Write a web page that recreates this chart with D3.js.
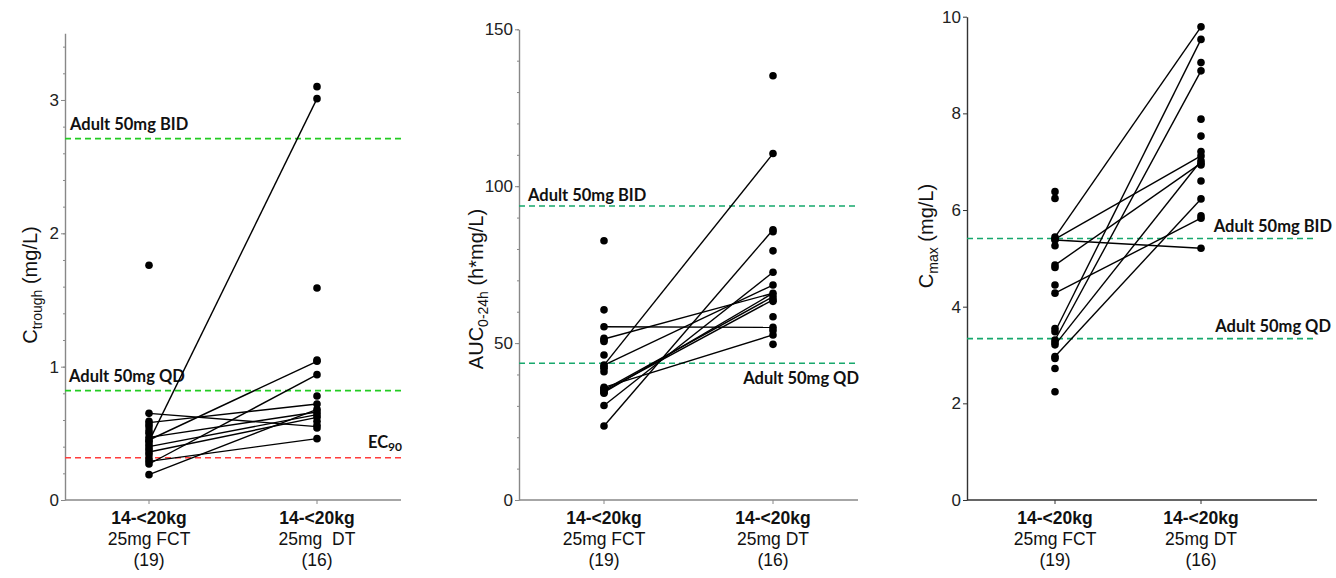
<!DOCTYPE html>
<html><head><meta charset="utf-8">
<script src="https://cdn.jsdelivr.net/npm/d3@7"></script>
<style>body{margin:0;background:#fff}svg{display:block}</style>
</head><body>
<svg id="c" width="1336" height="578"></svg>
<script>
// ---------- data ----------
const categories = ["FCT", "DT"];
const catLine1 = ["14-<20kg", "14-<20kg"];
const catLine2P1 = ["25mg FCT", "25mg\u00a0 DT"];
const catLine2 = ["25mg FCT", "25mg DT"];
const catLine3 = ["(19)", "(16)"];

// Panel 1: Ctrough (mg/L)
const ctroughFCT = [1.76, 0.65, 0.59, 0.57, 0.55, 0.52, 0.50, 0.47, 0.45, 0.44, 0.42, 0.40, 0.38, 0.36, 0.34, 0.31, 0.29, 0.27, 0.19];
const ctroughDT = [3.10, 3.01, 1.59, 1.05, 1.04, 0.94, 0.78, 0.72, 0.68, 0.66, 0.64, 0.62, 0.59, 0.56, 0.54, 0.46];
const ctroughPairs = [[0.65, 0.55], [0.58, 0.72], [0.44, 3.01], [0.45, 1.04], [0.27, 0.94], [0.47, 0.66], [0.40, 0.64], [0.36, 0.62], [0.29, 0.46], [0.19, 0.68]];
const ctroughTicks = [0, 1, 2, 3];
const ctroughRefs = [2.71, 0.82, 0.317];
const ctroughRefLabels = ["Adult 50mg BID", "Adult 50mg QD", "EC90"];

// Panel 2: AUC0-24h (h*mg/L)
const aucFCT = [82.6, 60.6, 55.2, 51.5, 51.0, 50.5, 46.2, 43.0, 42.5, 42.0, 40.9, 35.9, 35.4, 35.1, 34.7, 34.3, 34.0, 30.1, 23.6];
const aucDT = [135.2, 110.4, 86.1, 85.5, 79.4, 72.6, 68.5, 65.9, 64.8, 63.8, 63.3, 58.4, 55.0, 54.0, 52.6, 49.6];
const aucPairs = [[55.2, 55.0], [51.3, 65.9], [43.0, 110.4], [43.0, 68.5], [23.6, 86.1], [30.1, 72.6], [35.9, 52.6], [35.1, 64.8], [34.7, 63.8], [34.3, 65.9]];
const aucTicks = [0, 50, 100, 150];
const aucRefs = [93.7, 43.6];
const aucRefLabels = ["Adult 50mg BID", "Adult 50mg QD"];

// Panel 3: Cmax (mg/L)
const cmaxFCT = [6.38, 6.24, 5.44, 5.40, 5.38, 5.26, 4.86, 4.81, 4.45, 4.28, 3.55, 3.48, 3.31, 3.26, 3.21, 2.97, 2.93, 2.72, 2.24];
const cmaxDT = [9.79, 9.53, 9.05, 8.88, 7.88, 7.53, 7.21, 7.12, 7.02, 6.97, 6.93, 6.60, 6.23, 5.88, 5.83, 5.21];
const cmaxPairs = [[5.44, 9.79], [5.40, 7.12], [5.38, 5.21], [4.86, 6.97], [4.28, 5.83], [3.48, 9.53], [3.31, 8.88], [3.21, 7.02], [2.97, 6.23]];
const cmaxTicks = [0, 2, 4, 6, 8, 10];
const cmaxRefs = [5.41, 3.34];
const cmaxRefLabels = ["Adult 50mg BID", "Adult 50mg QD"];

// ---------- drawing ----------
const svg = d3.select("#c");
const tickFont = "'Liberation Sans', Arial, sans-serif";
const noteFont = "Lato, 'Open Sans', sans-serif";

const panels = [
  { fct: ctroughFCT, dt: ctroughDT, pairs: ctroughPairs, max: 3.5, ticks: ctroughTicks, minor: d3.range(0, 3.51, 0.2),
    ax: 65, xr: 401, cx: [149, 317], top: 33.3, axisColor: "#888", line2: catLine2P1,
    refs: ctroughRefs, refLabels: ctroughRefLabels, refColors: ["#22cc22", "#22cc22", "#ff3c3c"],
    refText: [{x: 70, dy: -9, anchor: "start"}, {x: 69, dy: -9, anchor: "start"}, {x: 402, dy: -10, anchor: "end", sub: true}],
    ylab: ["C", "trough", " (mg/L)"], ylx: 37, yly: 285 },
  { fct: aucFCT, dt: aucDT, pairs: aucPairs, max: 150, ticks: aucTicks, minor: d3.range(0, 151, 10),
    ax: 519, xr: 858, cx: [604, 773], top: 29.3, axisColor: "#888", line2: catLine2,
    refs: aucRefs, refLabels: aucRefLabels, refColors: ["#16a86c", "#16a86c"],
    refText: [{x: 528, dy: -5, anchor: "start"}, {x: 859, dy: 21, anchor: "end"}],
    ylab: ["AUC", "0-24h", " (h*mg/L)"], ylx: 483, yly: 289 },
  { fct: cmaxFCT, dt: cmaxDT, pairs: cmaxPairs, max: 10, ticks: cmaxTicks, minor: [],
    ax: 967, xr: 1317, cx: [1055, 1201], top: 16.7, axisColor: "#333", line2: catLine2,
    refs: cmaxRefs, refLabels: cmaxRefLabels, refColors: ["#16a86c", "#16a86c"],
    refText: [{x: 1332, dy: -7, anchor: "end"}, {x: 1331, dy: -7, anchor: "end"}],
    ylab: ["C", "max", " (mg/L)"], ylx: 933, yly: 236 }
];

panels.forEach(p => {
  const g = svg.append("g");
  const y = d3.scaleLinear().domain([0, p.max]).range([500, p.top]);
  const x = d3.scalePoint().domain(categories).range(p.cx);

  // minor ticks
  if (p.minor.length) {
    const minorAxis = d3.axisLeft(y).tickValues(p.minor).tickSize(2).tickFormat("");
    const mg = g.append("g").attr("transform", `translate(${p.ax},0)`).call(minorAxis);
    mg.select(".domain").remove();
    mg.selectAll("line").attr("stroke", p.axisColor);
  }
  // major y axis
  const yAxis = d3.axisLeft(y).tickValues(p.ticks).tickSize(4).tickSizeOuter(0).tickPadding(2)
    .tickFormat(d3.format("d"));
  const yg = g.append("g").attr("transform", `translate(${p.ax},0)`).call(yAxis);
  yg.select(".domain").attr("stroke", p.axisColor).attr("stroke-width", 1.4);
  yg.selectAll(".tick line").attr("stroke", p.axisColor);
  yg.selectAll("text").attr("font-family", tickFont).attr("font-size", 17).attr("fill", "#222");

  // x axis
  g.append("line").attr("x1", p.ax).attr("x2", p.xr).attr("y1", 500).attr("y2", 500)
    .attr("stroke", p.axisColor).attr("stroke-width", 1.4);
  const xg = g.append("g").attr("transform", "translate(0,500)");
  categories.forEach((c, i) => {
    xg.append("line").attr("x1", x(c)).attr("x2", x(c)).attr("y1", 0).attr("y2", 4).attr("stroke", p.axisColor);
    const t = xg.append("text").attr("text-anchor", "middle").attr("font-family", tickFont)
      .attr("font-size", 17.5).attr("fill", "#111").style("white-space", "pre");
    t.append("tspan").attr("x", x(c)).attr("y", 24).attr("font-weight", "bold").text(catLine1[i]);
    t.append("tspan").attr("x", x(c)).attr("y", 45).text(p.line2[i]);
    t.append("tspan").attr("x", x(c)).attr("y", 66).text(catLine3[i]);
  });

  // reference lines
  p.refs.forEach((r, i) => {
    g.append("line").attr("x1", p.ax).attr("x2", p.xr).attr("y1", y(r)).attr("y2", y(r))
      .attr("stroke", p.refColors[i]).attr("stroke-width", 1.6).attr("stroke-dasharray", "6,4");
    const rt = p.refText[i];
    const t = g.append("text").attr("x", rt.x).attr("y", y(r) + rt.dy).attr("text-anchor", rt.anchor)
      .attr("font-family", noteFont).attr("font-weight", "bold").attr("font-size", 16.5).attr("fill", "#111");
    if (rt.sub) {
      t.append("tspan").text("EC");
      t.append("tspan").attr("font-size", 12).attr("dy", 3).text("90");
    } else {
      t.text(p.refLabels[i]);
    }
  });

  // paired lines
  g.selectAll(".pair").data(p.pairs).enter().append("line")
    .attr("x1", x("FCT")).attr("y1", d => y(d[0]))
    .attr("x2", x("DT")).attr("y2", d => y(d[1]))
    .attr("stroke", "#000").attr("stroke-width", 1.4);

  // points
  g.selectAll(".pf").data(p.fct).enter().append("circle")
    .attr("cx", x("FCT")).attr("cy", d => y(d)).attr("r", 3.8).attr("fill", "#000");
  g.selectAll(".pd").data(p.dt).enter().append("circle")
    .attr("cx", x("DT")).attr("cy", d => y(d)).attr("r", 3.8).attr("fill", "#000");

  // y label
  const yl = g.append("text").attr("transform", `translate(${p.ylx},${p.yly}) rotate(-90)`)
    .attr("text-anchor", "middle").attr("font-family", tickFont).attr("font-size", 20).attr("fill", "#111")
    .style("white-space", "pre");
  yl.append("tspan").text(p.ylab[0]);
  yl.append("tspan").attr("font-size", 14).attr("dy", 5).text(p.ylab[1]);
  yl.append("tspan").attr("dy", -5).text(p.ylab[2]);
});
</script>
</body></html>
